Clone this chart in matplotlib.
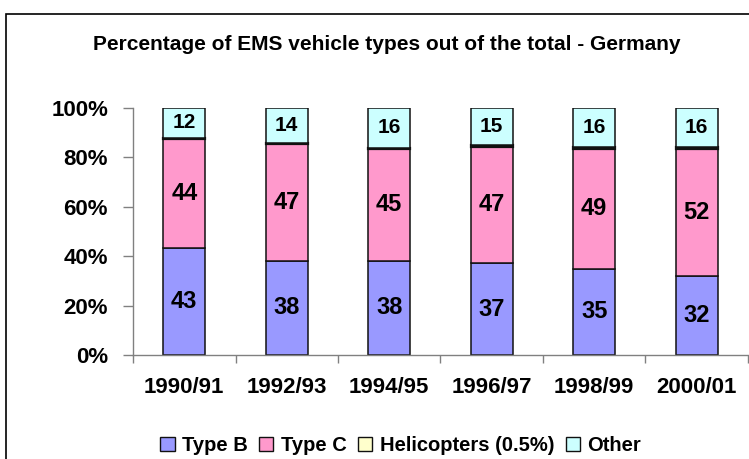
import matplotlib.pyplot as plt
import numpy as np
from matplotlib.patches import Rectangle
from matplotlib.ticker import FixedLocator, PercentFormatter

plt.rcParams['font.family'] = ['Liberation Sans', 'DejaVu Sans']
plt.rcParams['font.weight'] = 'bold'

years = ['1990/91', '1992/93', '1994/95', '1996/97', '1998/99', '2000/01']
type_b = [43, 38, 38, 37, 35, 32]
type_c = [44, 47, 45, 47, 49, 52]
helicopters = [0.5, 0.5, 0.5, 0.5, 0.5, 0.5]
other = [12, 14, 16, 15, 16, 16]

series = [
    ('Type B', type_b, '#9999FF'),
    ('Type C', type_c, '#FF99CC'),
    ('Helicopters (0.5%)', helicopters, '#FFFFCC'),
    ('Other', other, '#CCFFFF'),
]

totals = np.sum([s[1] for s in series], axis=0)

fig = plt.figure(figsize=(7.49, 4.59), dpi=100)
ax = fig.add_axes([0.1776, 0.2266, 0.821, 0.538])

x = np.arange(len(years))
bottom = np.zeros(len(years))
for name, vals, color in series:
    pct = np.array(vals) / totals * 100
    lw = 1.6 if name == 'Helicopters (0.5%)' else 1.1
    ax.bar(x, pct, width=0.41, bottom=bottom, color=color,
           edgecolor='#111111', linewidth=lw, label=name)
    if name != 'Helicopters (0.5%)':
        for xi, b, p, v in zip(x, bottom, pct, vals):
            fs = 15 if name == 'Other' else 17
            ax.text(xi, b + p / 2, str(v), ha='center', va='center',
                    fontsize=fs, fontweight='bold')
    bottom += pct

ax.set_xlim(-0.5, len(years) - 0.5)
ax.set_ylim(0, 100)
ax.yaxis.set_major_locator(FixedLocator([0, 20, 40, 60, 80, 100]))
ax.yaxis.set_major_formatter(PercentFormatter(decimals=0))
ax.set_xticks(x)
ax.set_xticklabels(years)
ax.xaxis.set_minor_locator(FixedLocator(np.arange(-0.5, len(years), 1.0)))

ax.tick_params(axis='y', direction='out', length=7, width=1, color='#808080',
               labelsize=16, pad=11)
ax.tick_params(axis='x', which='major', length=0, labelsize=16, pad=16)
ax.tick_params(axis='x', which='minor', direction='out', length=6, width=1,
               color='#808080')
for lbl in ax.get_xticklabels() + ax.get_yticklabels():
    lbl.set_fontweight('bold')

for side in ['top', 'right']:
    ax.spines[side].set_visible(False)
for side in ['left', 'bottom']:
    ax.spines[side].set_color('#808080')
    ax.spines[side].set_linewidth(1)

fig.text(0.516, 0.904, 'Percentage of EMS vehicle types out of the total - Germany',
         ha='center', va='center', fontsize=15, fontweight='bold')

leg = fig.legend(loc='center', bbox_to_anchor=(0.535, 0.03), ncol=4,
                 frameon=False, fontsize=14.5, handlelength=0.7, handleheight=0.7,
                 handletextpad=0.35, columnspacing=0.6)
for h in leg.legend_handles:
    h.set_edgecolor('#111111')
    h.set_linewidth(1)

fig.patches.append(Rectangle((6 / 749, -0.2), 1.2, 1.2 - 14 / 459,
                             transform=fig.transFigure, fill=False,
                             edgecolor='black', linewidth=1.2))

fig.savefig('out.png', dpi=100)
